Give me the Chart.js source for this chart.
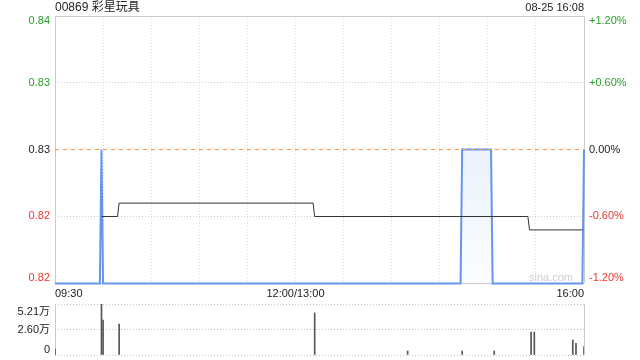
<!DOCTYPE html>
<html>
<head>
<meta charset="utf-8">
<title>00869 彩星玩具</title>
<script src="https://cdn.jsdelivr.net/npm/chart.js@4.4.1/dist/chart.umd.min.js"></script>
<style>
  body { margin: 0; background: #fff; }
  canvas { display: block; }
</style>
</head>
<body>
<canvas id="priceChart" width="640" height="300"></canvas>
<canvas id="volChart" width="640" height="60"></canvas>
<script>
'use strict';

//--------> Data <--------
const stockTitle = '00869 彩星玩具';
const stockTime = '08-25 16:08';
const watermark = 'sina.com';
const prevClose = 0.83;

// minutes since 09:30 with the lunch break cut out (330 = 16:00), only where the line turns
const priceMinutes = [0, 28, 29, 30, 253, 254, 272, 273, 329, 330];
const priceValues = [0.82, 0.82, 0.83, 0.82, 0.82, 0.83, 0.83, 0.82, 0.82, 0.83];

const avgMinutes = [29, 39, 40, 161, 162, 295, 296, 329];
const avgValues = [0.825, 0.825, 0.826, 0.826, 0.825, 0.825, 0.824, 0.824];

const volMinutes = [0, 29, 30, 40, 162, 220, 254, 274, 297, 299, 323, 325, 330];
const volValues = [6000, 52100, 35800, 31700, 42900, 4000, 4000, 4000, 23500, 23500, 15300, 12000, 8500];

const pctTicks = [-1.2, -0.6, 0, 0.6, 1.2];
const priceTickLabels = ['0.82', '0.82', '0.83', '0.83', '0.84'];
const pctTickLabels = ['-1.20%', '-0.60%', '0.00%', '+0.60%', '+1.20%'];
const timeTickLabels = { 0: '09:30', 150: '12:00/13:00', 330: '16:00' };
const volTicks = [0, 26050, 52100];
const volTickLabels = ['0', '2.60万', '5.21万'];

//--------> Look <--------
const fontFamily = "'Liberation Sans', Arial, 'Noto Sans CJK SC', sans-serif";
Chart.defaults.font.family = fontFamily;
Chart.defaults.font.size = 11;
Chart.defaults.color = '#222';

const tickColors = ['#e8382f', '#e8382f', '#222', '#28a028', '#28a028'];
const priceNudge = [-5, 0, 0, 0, 5]; // px, sina pulls the end labels inside the box
const volNudge = [-5, 0, 8];

const yMin = prevClose * (1 + pctTicks[0] / 100);
const yMax = prevClose * (1 + pctTicks[pctTicks.length - 1] / 100);
const yTickValues = pctTicks.map(p => prevClose * (1 + p / 100));

// chart.js centres a tick label on its line; an empty extra line moves it half a line height
function nudged (label, dy) {
  if (dy > 0) return ['', label];
  if (dy < 0) return [label, ''];
  return label;
}
function nudgeFont (dy) {
  return { family: fontFamily, size: 11, lineHeight: (Math.abs(dy) * 2 || 12) + 'px' };
}

function toPoints (xs, ys) {
  return xs.map((x, i) => ({ x: x, y: ys[i] }));
}

//--------> Title / watermark <--------
const headerText = {
  id: 'headerText',
  beforeDatasetsDraw (chart) {
    const c = chart.ctx; const a = chart.chartArea;
    c.save();
    c.font = '11px ' + fontFamily;
    c.fillStyle = '#cfcfcf';
    c.textAlign = 'right';
    c.textBaseline = 'middle';
    c.fillText(watermark, a.right - 11, a.bottom - 5);
    c.restore();
  },
  afterDraw (chart) {
    const c = chart.ctx; const a = chart.chartArea;
    c.save();
    c.textBaseline = 'middle';
    c.fillStyle = '#222';
    c.font = '12px ' + fontFamily;
    c.textAlign = 'left';
    c.fillText(stockTitle, a.left, 8);
    c.font = '11px ' + fontFamily;
    c.textAlign = 'right';
    c.fillText(stockTime, a.right, 8);
    c.restore();
  }
};

//--------> Price chart <--------
new Chart(document.getElementById('priceChart'), {
  type: 'line',
  data: {
    datasets: [{
      label: 'prev close',
      data: toPoints([0, 330], [prevClose, prevClose]),
      borderColor: '#f5964f',
      borderWidth: 1,
      borderDash: [4, 4],
      fill: false,
      order: 0
    }, {
      label: 'price',
      data: toPoints(priceMinutes, priceValues),
      borderColor: '#6496f0',
      borderWidth: 2,
      clip: 4, // the 0.82 floor sits a hair under the axis minimum
      fill: 'start',
      backgroundColor: (ctx) => {
        const a = ctx.chart.chartArea;
        if (!a) return 'rgba(0,0,0,0)';
        const g = ctx.chart.ctx.createLinearGradient(0, a.top, 0, a.bottom);
        g.addColorStop(0, '#dbe7fb');
        g.addColorStop(1, '#fbfdff');
        return g;
      },
      order: 2
    }, {
      label: 'average',
      data: toPoints(avgMinutes, avgValues),
      borderColor: '#333',
      borderWidth: 1,
      fill: false,
      order: 1
    }]
  },
  options: {
    responsive: false,
    animation: false,
    layout: { padding: { top: 16 } },
    elements: { point: { radius: 0 }, line: { tension: 0 } },
    plugins: { legend: { display: false }, tooltip: { enabled: false } },
    scales: {
      x: {
        type: 'linear', min: 0, max: 330,
        afterBuildTicks: s => { s.ticks = Array.from({ length: 12 }, (v, i) => ({ value: i * 30 })); },
        afterFit: s => { s.height = 17; s.paddingLeft = 0; s.paddingRight = 0; },
        grid: { drawTicks: false, color: ctx => (ctx.index === 0 || ctx.index === 11) ? '#ccc' : '#ddd' },
        border: { display: false, dash: ctx => (ctx.index === 0 || ctx.index === 11) ? [] : [1, 2] },
        ticks: { autoSkip: false, maxRotation: 0, align: 'inner', padding: 4, callback: v => timeTickLabels[v] || '' }
      },
      y: {
        position: 'left', min: yMin, max: yMax,
        afterBuildTicks: s => { s.ticks = yTickValues.map(v => ({ value: v })); },
        afterFit: s => { s.width = 55; s.paddingTop = 0; s.paddingBottom = 0; },
        // the prev close line is its own dataset, so no grid line there
        grid: { drawTicks: false, color: ctx => ctx.index === 2 ? 'rgba(0,0,0,0)' : '#ccc' },
        border: { display: false, dash: ctx => (ctx.index === 1 || ctx.index === 3) ? [1, 2] : [] },
        ticks: {
          autoSkip: false,
          padding: 5,
          color: ctx => tickColors[ctx.index],
          font: ctx => nudgeFont(priceNudge[ctx.index]),
          callback: (v, i) => nudged(priceTickLabels[i], priceNudge[i])
        }
      },
      y1: {
        position: 'right', min: yMin, max: yMax,
        afterBuildTicks: s => { s.ticks = yTickValues.map(v => ({ value: v })); },
        afterFit: s => { s.width = 56; s.paddingTop = 0; s.paddingBottom = 0; },
        grid: { drawOnChartArea: false, drawTicks: false },
        border: { display: false },
        ticks: {
          autoSkip: false,
          padding: 5,
          color: ctx => tickColors[ctx.index],
          font: ctx => nudgeFont(priceNudge[ctx.index]),
          callback: (v, i) => nudged(pctTickLabels[i], priceNudge[i])
        }
      }
    }
  },
  plugins: [headerText]
});

//--------> Volume chart <--------
new Chart(document.getElementById('volChart'), {
  type: 'bar',
  data: {
    datasets: [{
      label: 'volume',
      data: toPoints(volMinutes, volValues),
      backgroundColor: '#555',
      barThickness: 1
    }]
  },
  options: {
    responsive: false,
    animation: false,
    layout: { padding: { top: 4, right: 56 } },
    plugins: { legend: { display: false }, tooltip: { enabled: false } },
    scales: {
      x: {
        type: 'linear', min: 0, max: 330, offset: false,
        afterBuildTicks: s => { s.ticks = [{ value: 0 }, { value: 330 }]; },
        afterFit: s => { s.height = 5; s.paddingLeft = 0; s.paddingRight = 0; },
        grid: { offset: false, drawTicks: false, color: '#ccc' },
        border: { display: false },
        ticks: { display: false }
      },
      y: {
        min: 0, max: volTicks[volTicks.length - 1],
        afterBuildTicks: s => { s.ticks = volTicks.map(v => ({ value: v })); },
        afterFit: s => { s.width = 55; s.paddingTop = 0; s.paddingBottom = 0; },
        grid: { drawTicks: false, color: '#c4c4c4' },
        border: { display: false, dash: [1, 2] },
        ticks: {
          autoSkip: false,
          padding: 5,
          font: ctx => nudgeFont(volNudge[ctx.index]),
          callback: (v, i) => nudged(volTickLabels[i], volNudge[i])
        }
      }
    }
  }
});
</script>
</body>
</html>
